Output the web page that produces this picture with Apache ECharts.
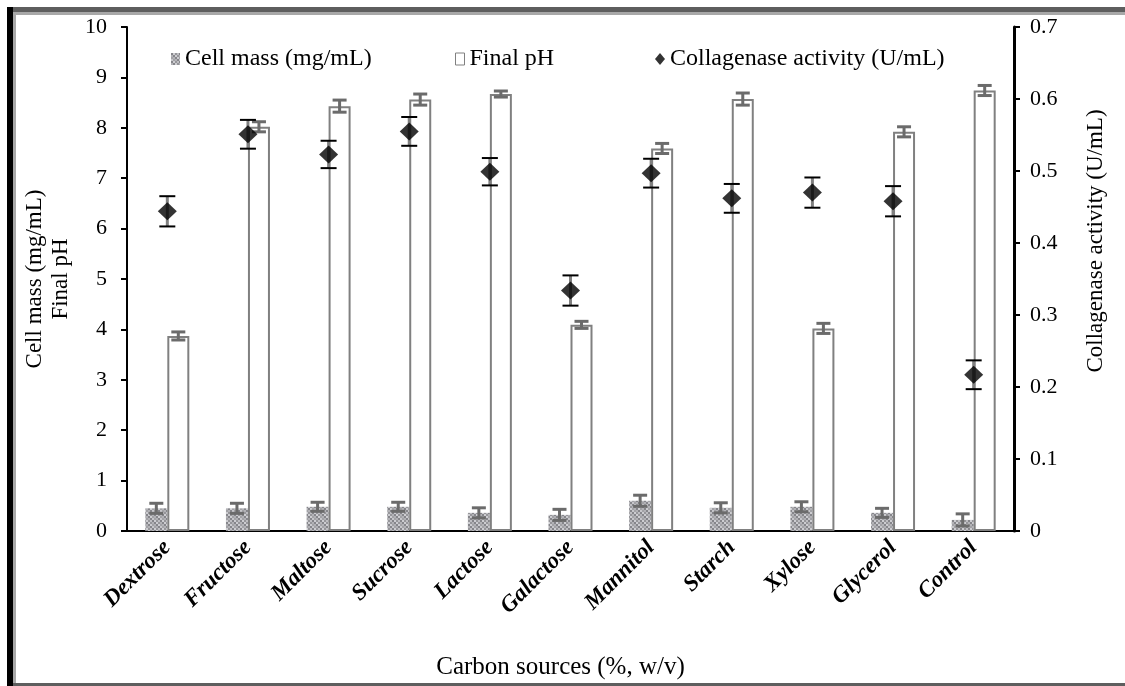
<!DOCTYPE html>
<html>
<head>
<meta charset="utf-8">
<script src="https://cdn.jsdelivr.net/npm/echarts@6/dist/echarts.min.js"></script>
<style>
html,body{margin:0;padding:0;background:#fff;}
#chart{width:1125px;height:686px;}
</style>
</head>
<body>
<div id="chart"></div>
<script>
const categories = ['Dextrose','Fructose','Maltose','Sucrose','Lactose','Galactose','Mannitol','Starch','Xylose','Glycerol','Control'];
const cellMass    = [0.45,0.45,0.48,0.48,0.36,0.32,0.60,0.46,0.48,0.36,0.22];
const cellMassErr = [0.10,0.10,0.09,0.09,0.10,0.11,0.11,0.10,0.10,0.09,0.12];
const finalPH     = [3.87,8.02,8.43,8.56,8.67,4.09,7.59,8.57,4.02,7.92,8.74];
const finalPHErr  = [0.08,0.10,0.12,0.11,0.06,0.07,0.10,0.12,0.10,0.10,0.10];
const activity    = [0.444,0.551,0.523,0.555,0.499,0.334,0.497,0.462,0.470,0.458,0.217];
const activityErr = [0.021,0.020,0.019,0.020,0.019,0.021,0.020,0.020,0.021,0.021,0.020];
const leftAxis  = {min: 0, max: 10, interval: 1};
const rightAxis = {min: 0, max: 0.7, interval: 0.1};

const FONT = '"Liberation Serif", "Times New Roman", serif';

// mottled gray texture for cell mass bars
function makePattern() {
  const c = document.createElement('canvas');
  c.width = 8; c.height = 8;
  const ctx = c.getContext('2d');
  const tones = ['#86868b','#bebec2','#a2a2a6','#cdcdd1','#7c7c81','#b2b2b6','#96969a','#c6c6ca'];
  for (let y = 0; y < 8; y += 2) {
    for (let x = 0; x < 8; x += 2) {
      ctx.fillStyle = tones[((x * 3 + y * 5) / 2) % tones.length];
      ctx.fillRect(x, y, 2, 2);
    }
  }
  return c;
}
const pattern = {image: makePattern(), repeat: 'repeat'};

function errRender(offsetPx, capW, stemColor, capColor, stemW, capLW) {
  return function (params, api) {
    const i = api.value(0), v = api.value(1), e = api.value(2);
    const hi = api.coord([i, v + e]);
    const lo = api.coord([i, v - e]);
    const x = hi[0] + offsetPx;
    return {
      type: 'group',
      children: [
        {type: 'line', shape: {x1: x, y1: hi[1], x2: x, y2: lo[1]}, style: {stroke: stemColor, lineWidth: stemW}},
        {type: 'line', shape: {x1: x - capW / 2, y1: hi[1], x2: x + capW / 2, y2: hi[1]}, style: {stroke: capColor, lineWidth: capLW}},
        {type: 'line', shape: {x1: x - capW / 2, y1: lo[1], x2: x + capW / 2, y2: lo[1]}, style: {stroke: capColor, lineWidth: capLW}}
      ]
    };
  };
}

const legendText = {fontFamily: FONT, fontSize: 24, color: '#000'};
const chart = echarts.init(document.getElementById('chart'), null, {renderer: 'canvas'});
chart.setOption({
  backgroundColor: '#ffffff',
  animation: false,
  textStyle: {fontFamily: FONT, color: '#000'},
  grid: {left: 127, right: 111, top: 27, bottom: 155, containLabel: false},
  legend: [
    {
      top: 42, left: 166, itemWidth: 9, itemHeight: 12, itemGap: 6,
      textStyle: legendText,
      data: [{name: 'Cell mass (mg/mL)', icon: 'rect'}]
    },
    {
      top: 42, left: 450, itemWidth: 9, itemHeight: 12,
      textStyle: legendText,
      data: [{name: 'Final pH', icon: 'rect', itemStyle: {color: '#fff', borderColor: '#808080', borderWidth: 1}}]
    },
    {
      top: 42, left: 650, itemWidth: 10, itemHeight: 12,
      textStyle: legendText,
      data: [{name: 'Collagenase activity (U/mL)', icon: 'diamond'}]
    }
  ],
  xAxis: {
    type: 'category',
    data: categories,
    name: 'Carbon sources (%, w/v)',
    nameLocation: 'middle',
    nameGap: 124,
    nameTextStyle: {fontFamily: FONT, fontSize: 25, color: '#000', padding: [0, 20, 0, 0]},
    axisLine: {lineStyle: {color: '#000', width: 2}},
    axisTick: {alignWithLabel: true, length: 6, lineStyle: {color: '#000', width: 2}},
    axisLabel: {rotate: 45, fontFamily: FONT, fontSize: 23, fontWeight: 'bold', fontStyle: 'italic', color: '#000', margin: 13, interval: 0,
      padding: [0, 0, 0, 0]}
  },
  yAxis: [
    {
      type: 'value', position: 'left',
      min: leftAxis.min, max: leftAxis.max, interval: leftAxis.interval,
      name: 'Cell mass (mg/mL)\nFinal pH',
      nameLocation: 'middle', nameRotate: 90, nameGap: 50,
      nameTextStyle: {fontFamily: FONT, fontSize: 23, color: '#000', lineHeight: 26, align: 'center'},
      axisLine: {show: true, lineStyle: {color: '#000', width: 2}},
      axisTick: {show: true, length: 6, lineStyle: {color: '#000', width: 2}},
      axisLabel: {fontFamily: FONT, fontSize: 22, color: '#000', margin: 20},
      splitLine: {show: false}
    },
    {
      type: 'value', position: 'right',
      min: rightAxis.min, max: rightAxis.max, interval: rightAxis.interval,
      name: 'Collagenase activity (U/mL)',
      nameLocation: 'middle', nameRotate: 90, nameGap: 70,
      nameTextStyle: {fontFamily: FONT, fontSize: 23, color: '#000', padding: [0, 0, 0, 76]},
      axisLine: {show: true, lineStyle: {color: '#000', width: 3}},
      axisTick: {show: true, length: 6, lineStyle: {color: '#000', width: 2}},
      axisLabel: {fontFamily: FONT, fontSize: 22, color: '#000', margin: 16,
        formatter: function (v) { return v === 0 ? '0' : v.toFixed(1); }},
      splitLine: {show: false}
    }
  ],
  series: [
    {
      name: 'Cell mass (mg/mL)', type: 'bar', yAxisIndex: 0,
      data: cellMass, barWidth: 22, barGap: '0%',
      itemStyle: {color: pattern}
    },
    {
      name: 'Final pH', type: 'bar', yAxisIndex: 0,
      data: finalPH, barWidth: 22, barGap: '0%',
      itemStyle: {color: '#ffffff', borderColor: '#808080', borderWidth: 2}
    },
    {
      name: 'cellErr', type: 'custom', yAxisIndex: 0, z: 5,
      data: categories.map((c, i) => [i, cellMass[i], cellMassErr[i]]),
      renderItem: errRender(-11, 14, '#6b6b6b', '#6b6b6b', 3, 3),
      silent: true
    },
    {
      name: 'phErr', type: 'custom', yAxisIndex: 0, z: 5,
      data: categories.map((c, i) => [i, finalPH[i], finalPHErr[i]]),
      renderItem: errRender(11, 14, '#6b6b6b', '#6b6b6b', 3, 3),
      silent: true
    },
    {
      name: 'actErr', type: 'custom', yAxisIndex: 1, z: 6,
      data: categories.map((c, i) => [i, activity[i], activityErr[i]]),
      renderItem: errRender(0, 16, '#808080', '#000000', 3, 2),
      silent: true
    },
    {
      name: 'Collagenase activity (U/mL)', type: 'scatter', yAxisIndex: 1, z: 8,
      data: activity, symbol: 'diamond', symbolSize: [19, 18],
      itemStyle: {color: '#000'}
    }
  ],
  graphic: [
    {type: 'rect', shape: {x: 7, y: 7, width: 1118, height: 5}, style: {fill: '#5e5e5e'}, z: 100},
    {type: 'rect', shape: {x: 7, y: 7, width: 6, height: 679}, style: {fill: '#000'}, z: 101},
    {type: 'rect', shape: {x: 13, y: 12, width: 3, height: 674}, style: {fill: '#a8a8a8'}, z: 100},
    {type: 'rect', shape: {x: 13, y: 12, width: 1112, height: 3}, style: {fill: '#a8a8a8'}, z: 100},
    {type: 'rect', shape: {x: 13, y: 683, width: 1112, height: 3}, style: {fill: '#5e5e5e'}, z: 100}
  ]
});
</script>
</body>
</html>
